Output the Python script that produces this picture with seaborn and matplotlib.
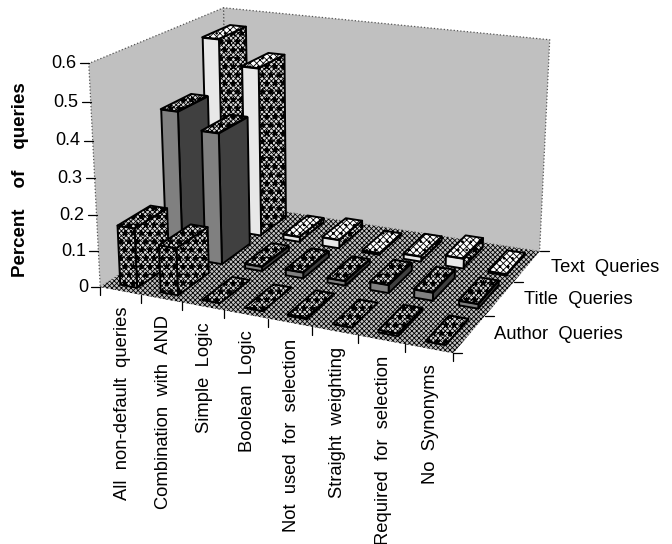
import seaborn as sns
import matplotlib.pyplot as plt
from matplotlib.lines import Line2D
from mpl_toolkits.mplot3d import proj3d
from mpl_toolkits.mplot3d.art3d import Poly3DCollection

categories = ["All  non-default  queries", "Combination  with  AND", "Simple  Logic", "Boolean  Logic",
              "Not  used  for  selection", "Straight  weighting", "Required  for  selection", "No  Synonyms"]
series = ["Author  Queries", "Title  Queries", "Text  Queries"]
author = [0.165, 0.13, 0.0, 0.0, 0.004, 0.0, 0.007, 0.0]
title = [0.415, 0.37, 0.012, 0.016, 0.012, 0.022, 0.022, 0.012]
text = [0.56, 0.49, 0.014, 0.024, 0.004, 0.014, 0.028, 0.003]
z_ticks = [0, 0.1, 0.2, 0.3, 0.4, 0.5, 0.6]

W, H = 672, 544
sns.set_theme(style="white")
plt.rcParams["font.family"] = ["Liberation Sans", "DejaVu Sans"]
plt.rcParams["hatch.linewidth"] = 0.6

fig = plt.figure(figsize=(W / 100, H / 100), dpi=100)
ax = fig.add_subplot(projection="3d", computed_zorder=False)
ax.set_xlim(0, 8, view_margin=0)
ax.set_ylim(0, 3, view_margin=0)
ax.set_zlim(0, 0.6, view_margin=0)

# camera fitted to the corners of the chart box
ax.view_init(elev=18.131, azim=-65.862)
ax.set_proj_type("persp", focal_length=0.441)
ax.set_box_aspect((1, 0.733, 0.617), zoom=0.799)
scale, ox, oy = 3372.36, 326.52, 162.61
xmin, xmax = ax.viewLim.intervalx
ymin, ymax = ax.viewLim.intervaly
ax.set_position([(ox + scale * xmin) / W, (H - oy + scale * ymin) / H,
                 scale * (xmax - xmin) / W, scale * (ymax - ymin) / H])
ax.set_axis_off()
ax.patch.set_alpha(0)
M = ax.get_proj()


def project(x, y, z):
    # 3d data point to the 2d coordinates of the axes
    px, py, _ = proj3d.proj_transform(x, y, z, M)
    return float(px), float(py)


def tick(x, y, z, dx, dy):
    # tick mark with a length in pixels
    px, py = project(x, y, z)
    ax.add_artist(Line2D([px, px + dx / scale], [py, py + dy / scale], color="black", lw=0.9, zorder=500))


def label(x, y, z, dx, dy, s, **kw):
    px, py = project(x, y, z)
    ax.text2D(px + dx / scale, py + dy / scale, s, transform=ax.transData, color="black", zorder=500, **kw)


order = [0]


def face(verts, **kw):
    order[0] += 1
    ax.add_collection3d(Poly3DCollection([verts], zorder=order[0], **kw))


wall = dict(facecolor="#c0c0c0", edgecolor="#555555", linewidth=0.9, linestyle=":")
face([(0, 0, 0), (0, 3, 0), (0, 3, .6), (0, 0, .6)], **wall)
face([(0, 3, 0), (8, 3, 0), (8, 3, .6), (0, 3, .6)], **wall)
face([(0, 0, 0), (8, 0, 0), (8, 3, 0), (0, 3, 0)], facecolor="#c4c4c4", edgecolor="black", linewidth=0, hatch="xxxxxxx")

pat = ("#dcdcdc", "xxxxxxx**")
styles = [
    dict(front=pat, side=pat, top=pat),
    dict(front=("#808080", None), side=("#404040", None), top=pat),
    dict(front=("#e8e8e8", None), side=pat, top=("white", "xxxxx..")),
]
for row, vals in reversed(list(enumerate([author, title, text]))):
    st = styles[row]
    for col in range(8):
        v = vals[col]
        x0, x1 = col + 0.32, col + 0.74
        y0, y1 = row + 0.15, row + 0.85
        kw = dict(edgecolor="black", linewidth=1.4)
        for name, verts in (("side", [(x1, y0, 0), (x1, y1, 0), (x1, y1, v), (x1, y0, v)]),
                            ("front", [(x0, y0, 0), (x1, y0, 0), (x1, y0, v), (x0, y0, v)]),
                            ("top", [(x0, y0, v), (x1, y0, v), (x1, y1, v), (x0, y1, v)])):
            fc, h = st[name]
            face(verts, facecolor=fc, hatch=h, **kw)

for z in z_ticks:
    tick(0, 0, z, -9, 0)
    label(0, 0, z, -12, 0, f"{z:g}", ha="right", va="center", fontsize=13)
for i in range(9):
    tick(i, 0, 0, 0, -8)
for i, lab in enumerate(categories):
    label(i + 0.5, 0, 0, 2, -16, lab, rotation=90, ha="center", va="top", fontsize=13.2)
for j in range(4):
    tick(8, j, 0, 9, 0)
for j, lab in enumerate(series):
    label(8, j + 0.5, 0, 24, -1, lab, ha="left", va="center", fontsize=13.2)
fig.text(21 / W, 1 - 180 / H, "Percent    of    queries", rotation=90, ha="center", va="center",
         fontsize=13.5, fontweight="bold", color="black")

fig.savefig("out.png", dpi=100)
